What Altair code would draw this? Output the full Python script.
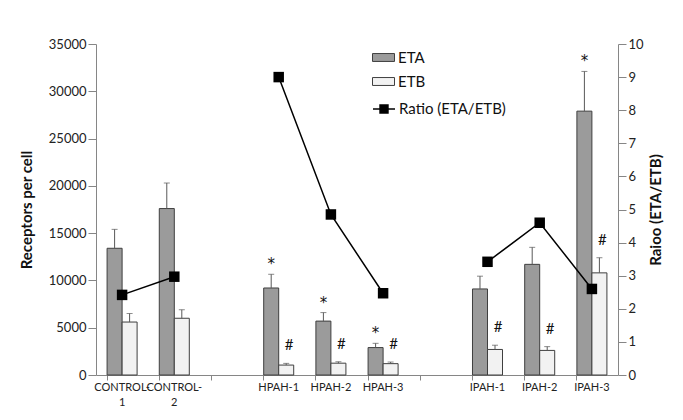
import altair as alt
import pandas as pd

categories = ["CONTROL-1", "CONTROL-2", "gap1", "HPAH-1", "HPAH-2", "HPAH-3",
              "gap2", "IPAH-1", "IPAH-2", "IPAH-3"]
eta = [13400, 17600, None, 9200, 5700, 2900, None, 9100, 11700, 27900]
eta_err = [2000, 2700, None, 1450, 900, 450, None, 1350, 1800, 4200]
etb = [5600, 6000, None, 1050, 1250, 1200, None, 2700, 2600, 10800]
etb_err = [900, 900, None, 180, 150, 170, None, 450, 400, 1600]
ratio = [2.42, 2.97, None, 9.0, 4.85, 2.47, None, 3.42, 4.6, 2.6]
group = ["CONTROL", "CONTROL", None, "HPAH", "HPAH", "HPAH", None, "IPAH", "IPAH", "IPAH"]
eta_mark = ["", "", "", "*", "*", "*", "", "", "", "*"]
etb_mark = ["", "", "", "#", "#", "#", "", "#", "#", "#"]

rows = []
for i, c in enumerate(categories):
    if eta[i] is not None:
        rows.append(dict(cat=c, series="ETA", value=eta[i], top=eta[i] + eta_err[i], mark=eta_mark[i]))
        rows.append(dict(cat=c, series="ETB", value=etb[i], top=etb[i] + etb_err[i], mark=etb_mark[i]))
bars_df = pd.DataFrame(rows)
ratio_df = pd.DataFrame([dict(cat=c, ratio=ratio[i], grp=group[i], lab="Ratio (ETA/ETB)")
                         for i, c in enumerate(categories) if ratio[i] is not None])

FONT = "Lato"
AX = "#868686"

x_scale = alt.Scale(domain=categories, paddingInner=0.425, paddingOuter=0.2125)
x_axis = alt.Axis(title=None, labelAngle=0, bandPosition=0, domainColor=AX,
                  tickColor=AX, tickSize=5, labelPadding=1, labelFontSize=11,
                  labelColor="#222222", labelFont=FONT, labelLineHeight=15,
                  labelExpr="datum.value == 'CONTROL-1' ? ['CONTROL-', '1'] : datum.value == 'CONTROL-2' ? ['CONTROL-', '2'] : indexof(datum.value, 'gap') == 0 ? '' : datum.value")
x_enc = alt.X("cat:N", sort=categories, scale=x_scale, axis=x_axis)
xoff = alt.XOffset("series:N", sort=["ETA", "ETB"],
                   scale=alt.Scale(domain=["ETA", "ETB"], paddingInner=0, paddingOuter=0))

left_scale = alt.Scale(domain=[0, 35000], nice=False)
y_left = alt.Y("value:Q", scale=left_scale,
               axis=alt.Axis(title="Receptors per cell", values=list(range(0, 35001, 5000)),
                             format="d", grid=False, domainColor=AX, tickColor=AX, tickSize=8,
                             labelFontSize=13, labelColor="#222222", labelFont=FONT,
                             titleFont=FONT, titleFontSize=15, titleFontWeight="bold",
                             titleColor="#111111", titlePadding=14, titleAngle=270))

bars = alt.Chart(bars_df).mark_bar(stroke="#3f3f3f", strokeWidth=1).encode(
    x=x_enc, xOffset=xoff, y=y_left,
    fill=alt.Fill("series:N", sort=["ETA", "ETB"],
                  scale=alt.Scale(domain=["ETA", "ETB"], range=["#9b9b9b", "#f2f2f2"]),
                  legend=alt.Legend(title=None, orient="none", legendX=276, legendY=2,
                                    symbolType="M-1,-0.36H1V0.36H-1Z", symbolSize=484,
                                    symbolStrokeColor="#3f3f3f", symbolStrokeWidth=1,
                                    labelFont=FONT, labelFontSize=15, labelColor="#111111",
                                    rowPadding=4, labelOffset=3)),
)
errs = alt.Chart(bars_df).mark_rule(color="#595959", strokeWidth=1).encode(
    x=x_enc, xOffset=xoff,
    y=alt.Y("value:Q", scale=left_scale, axis=None), y2="top:Q")
caps = alt.Chart(bars_df).mark_tick(color="#595959", size=6, thickness=1).encode(
    x=x_enc, xOffset=xoff, y=alt.Y("top:Q", scale=left_scale, axis=None))
stars = alt.Chart(bars_df).transform_filter("datum.mark == '*'").mark_text(
    font="DejaVu Sans", fontSize=15, dy=-10, color="#111111").encode(
    x=x_enc, xOffset=xoff, y=alt.Y("top:Q", scale=left_scale, axis=None), text="mark:N")
hashes = alt.Chart(bars_df).transform_filter("datum.mark == '#'").mark_text(
    font=FONT, fontSize=15, dy=-18, dx=3, color="#111111").encode(
    x=x_enc, xOffset=xoff, y=alt.Y("top:Q", scale=left_scale, axis=None), text="mark:N")

right_scale = alt.Scale(domain=[0, 10], nice=False)
y_right = alt.Y("ratio:Q", scale=right_scale,
                axis=alt.Axis(orient="right", title="Raioo (ETA/ETB)", values=list(range(0, 11)),
                              grid=False, domainColor=AX, tickColor=AX, tickSize=8,
                              labelFontSize=13, labelColor="#222222", labelFont=FONT,
                              titleFont=FONT, titleFontSize=15, titleFontWeight="bold",
                              titleColor="#111111", titlePadding=20, titleAngle=270))

line = alt.Chart(ratio_df).mark_line(strokeWidth=1.5).encode(
    x=x_enc, y=y_right, detail="grp:N",
    stroke=alt.Stroke("lab:N", scale=alt.Scale(range=["#000000"]),
                      legend=alt.Legend(title=None, orient="none", legendX=276, legendY=53,
                                        symbolType="M-1,0H1M-0.36,-0.36H0.36V0.36H-0.36Z",
                                        symbolSize=484, symbolFillColor="#000000",
                                        symbolStrokeWidth=1.5,
                                        labelFont=FONT, labelFontSize=15, labelColor="#111111",
                                        labelOffset=3)))
pts = alt.Chart(ratio_df).mark_point(shape="square", filled=True, size=110, color="#000000",
                                     opacity=1).encode(
    x=x_enc, y=alt.Y("ratio:Q", scale=right_scale, axis=None))

chart = alt.layer(bars, errs, caps, stars, hashes, line, pts).resolve_scale(
    y="independent").properties(
    width=522, height=331,
    autosize=alt.AutoSizeParams(type="none"),
    padding={"left": 88, "top": 36, "right": 57, "bottom": 45},
).configure_view(stroke=None)

chart.save("out.html", embed_options={"renderer": "svg", "actions": False})
